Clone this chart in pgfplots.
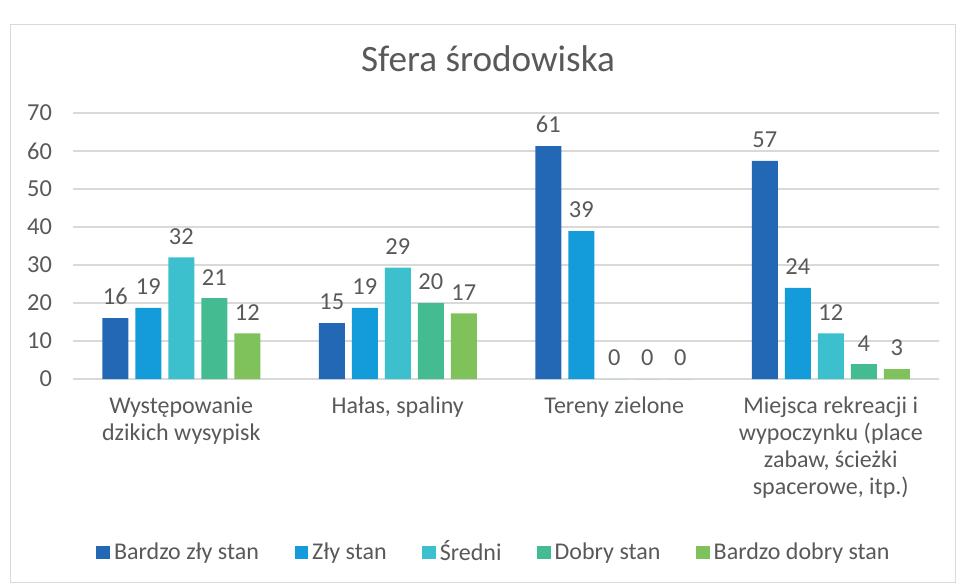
\documentclass[border=0pt]{standalone}
\usepackage{pgfplots}
\pgfplotsset{compat=1.18}
\usepackage{fontspec}
\setmainfont{Carlito}
\definecolor{c1}{HTML}{2368B5}
\definecolor{c2}{HTML}{149BDA}
\definecolor{c3}{HTML}{3CC0CE}
\definecolor{c4}{HTML}{45BB92}
\definecolor{c5}{HTML}{7FC25C}
\definecolor{txt}{HTML}{595959}
\definecolor{gridc}{HTML}{D9D9D9}
\begin{document}
\begin{tikzpicture}
\path (0,0) rectangle (478pt,-291.5pt);
\draw[color=gridc, line width=0.5pt] (5pt,-12.5pt) rectangle (477.7pt,-291.2pt);
\node[txt, font=\fontsize{18.6}{20}\selectfont] at (244pt,-29.5pt) {Sfera środowiska};
\begin{axis}[
  at={(36.5pt,-189.5pt)}, anchor=south west,
  scale only axis, width=433pt, height=133pt,
  ymin=0, ymax=70, ytick={0,10,...,70},
  xmin=-0.5, xmax=3.5, xtick={0,1,2,3},
  xticklabels={{Występowanie\\dzikich wysypisk},{Hałas, spaliny},{Tereny zielone},{Miejsca rekreacji i\\wypoczynku (place\\zabaw, ścieżki\\spacerowe, itp.)}},
  x tick label style={align=center, font=\fontsize{12}{13.4}\selectfont, text=txt, yshift=-5.5pt},
  y tick label style={font=\fontsize{12.2}{13}\selectfont, text=txt, xshift=-7pt},
  /pgf/number format/assume math mode=true,
  ybar=3.5pt, bar width=13pt,
  axis line style={draw=none},
  major tick length=0pt,
  ymajorgrids, grid style={gridc, line width=0.6pt},
  nodes near coords,
  nodes near coords style={font=\fontsize{12.2}{13}\selectfont, text=txt, /pgf/number format/precision=0, /pgf/number format/fixed, /pgf/number format/assume math mode=true, yshift=3pt},
  legend style={at={(0.5,-0.652)}, anchor=center, xshift=-5.5pt, draw=none, legend columns=5,
    font=\fontsize{12}{13}\selectfont, text=txt,
    /tikz/every even column/.append style={column sep=15.8pt}},
  legend image code/.code={\fill[#1] (0pt,-3.3pt) rectangle (6.8pt,3.3pt);},
]
\addplot[fill=c1, draw=none] coordinates {(0,16.0) (1,14.7) (2,61.3) (3,57.4)};
\addplot[fill=c2, draw=none] coordinates {(0,18.7) (1,18.7) (2,38.9) (3,24.0)};
\addplot[fill=c3, draw=none] coordinates {(0,32.0) (1,29.3) (2,0) (3,12.0)};
\addplot[fill=c4, draw=none] coordinates {(0,21.3) (1,20.0) (2,0) (3,3.9)};
\addplot[fill=c5, draw=none] coordinates {(0,12.0) (1,17.3) (2,0) (3,2.6)};
\legend{Bardzo zły stan, Zły stan, Średni, Dobry stan, Bardzo dobry stan}
\end{axis}
\end{tikzpicture}
\end{document}
